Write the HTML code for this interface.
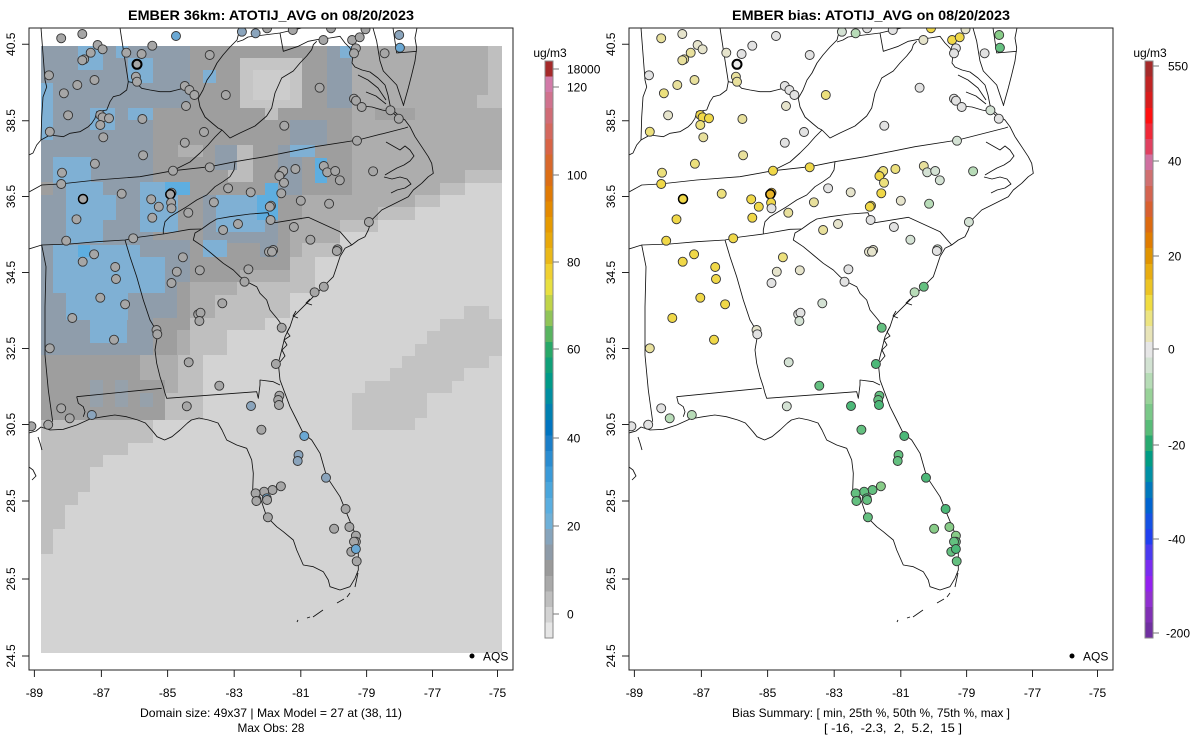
<!DOCTYPE html>
<html><head><meta charset="utf-8"><style>
html,body{margin:0;padding:0;background:#fff}
svg{display:block;font-family:"Liberation Sans",Arial,sans-serif}
.g{fill:#a6a6a6}.b1{fill:#8aa4bc}.b2{fill:#6aa8d4}
.z{fill:#e2e2e2}.w{fill:#e6e4cc}.p{fill:#e8e09c}.y1{fill:#ece07c}.y{fill:#f0d848}.o{fill:#e8b428}
.n0{fill:#d4e2d4}.n1{fill:#b8dcb8}.n2{fill:#88cc88}.n3{fill:#64c080}.n4{fill:#4cb878}
</style></head><body>
<svg width="1200" height="750" viewBox="0 0 1200 750" xmlns="http://www.w3.org/2000/svg">
<rect width="1200" height="750" fill="#fff"/>
<defs>
<clipPath id="cp"><rect x="29" y="28" width="484" height="642"/></clipPath>
<g id="map" fill="none" stroke="#111" stroke-width="0.85" stroke-linejoin="round">
<path d="M41,28 L45,80 L46.7,87 L43,97 L41.7,117 L41,140 L36.7,145 L33,153 L29,155"/>
<path d="M41,140 L50,135 L63.3,136.7 L70,133.3 L80,131.7 L88.3,126.7 L91.7,123.3 L95,118.3 L96.7,111.7 L106.7,110 L110,101.7 L113.3,96.7 L120,95 L126.7,90 L128.3,81.7 L136.7,83.3 L141.7,88.3 L150,90 L160,91.7 L170,91.7 L176.7,90 L183.3,88.3 L193.3,95 L198.3,98.3"/>
<path d="M120,28 L128.3,81.7"/>
<path d="M198.3,98.3 L203,90 L207,80 L212,73 L217,63 L223,55 L230,47 L237,40 L240,28"/>
<path d="M198.3,98.3 L200,107 L205,117 L212,123 L218,128 L222,130"/>
<path d="M222,130 L215,137 L208,145 L200,153 L190,162 L178,168 L173,170.7"/>
<path d="M222,130 L230,138 L240,133 L255,126 L266.7,116 L271.7,108 L275,93 L281.7,78 L293.3,71 L300,63 L306.7,56 L311.7,49.7 L313.3,44.7 L316.7,41.3"/>
<path d="M237,42 L243,40 L248,37 L280,33 L302,28 M280,33 L283.3,51.3 L298.3,46.3 L308.3,41.3 L316.7,39.7 L330,38 L340,36.3 L345,43 L350,48"/>
<path d="M29,192 L41.7,185 L60,184 L96.7,180 L140,176.7 L173.3,170.7 L210,166.7 L235,161.7 L265,156.7 L315,146.7 L358,140 L405,128 L408,127"/>
<path d="M235,161.7 L234,170 L230,176.7 L223,181.7 L215,186.7 L206.7,195 L196.7,200 L186.7,206.7 L178.3,211.7 L170,216.7 L165,221.7 L163.3,230 L163.3,234"/>
<path d="M29,249 L41.7,245 L70,244 L96.7,241.7 L125,240 L140,237 L163.3,234 L190,229.3 L201.7,229"/>
<path d="M201.7,229 L210,223 L216.7,219 L230,216.7 L250,214 L268,212.7 L271.7,221.7 L275,222.7 L308.3,217.3 L340,231.7 L351.7,245"/>
<path d="M201.7,229 L195,233 L193.3,240 L203.3,246.7 L213.3,255 L223.3,263.3 L233.3,270 L240,276.7 L246.7,281.7 L256.7,286.7 L260,293.3 L266.7,300 L270,310 L278.3,320 L283,327"/>
<path d="M125,240 L130,256.7 L136.7,276.7 L143.3,300 L150,320 L155,328.3 L158.3,331.7 L156.7,340 L155,350 L156.7,363.3 L160,376.7 L163.3,386.7 L165,393.3 L166.7,398.3 L256.7,391.7 L258.3,398.3 L260,385 L260,380 L273.3,381.7 L280,385"/>
<path d="M76.7,396.7 L161.7,388.3 M76.7,396.7 L78.3,403.3 L83.3,406.7 L85,411.7 L83.3,416.7"/>
<path d="M41.7,245 L46,266.7 L45,306.7 L45,355 L48.3,390 L52.7,421.7"/>
<path d="M29,433 L36,431 L41,427 L50,430 L63.3,429.3 L76.7,425 L90,419 L103.3,416.7 L114.8,415 L126.3,416.7 L137.8,420 L145.4,423 L153,431.7 L157,436.7 L164.6,440 L172,436.7 L180,430 L187.5,423 L191.4,420 L199,418 L208.6,420 L218,423 L222,430 L226.7,440 L236.7,445 L246.7,448.3 L251.7,460 L253.3,473.3 L252.7,490 L260,496.7 L263.3,506.7 L266.7,516.7 L276.7,526.7 L283.3,531.7 L293.3,540 L296.7,550 L303.3,565 L313.3,566.7 L323.3,571.7 L328.3,580 L330,586.7 L340,590 L350,586.7 L355,578.3 L358.3,570 L358.3,553.3 L355,533.3 L346.7,513.3 L340,496.7 L326.7,476.7 L320,453.3 L311.7,440 L303.3,433.3 L296.7,420 L290,406.7 L285,393.3 L280,380 L278.3,363.3 L281.7,350 L285,336.7 L290,326.7 L293.3,316.7 L303.3,306.7 L316.7,293.3 L325,285 L333.3,276.7 L336.7,266.7 L340,256.7 L345,248.3 L351.7,245 L358.3,240 L365,236.7 L368.3,230 L371.7,220 L376.7,215 L381.7,210 L388.3,206.7 L398.3,201.7 L408.3,196.7 L413.3,190 L421.7,183.3 L428.3,176.7 L433.3,173.3 L431.7,163.3 L428.3,156.7 L421.7,146.7 L415,136.7 L410,126.7 L405,120 L400,116.7"/>
<path d="M290,326.7 L287,332 L290,336 L284,340 L287,345 L282,350 L285,356 L280,362 M310,299 L306,303 L312,305 M296,311 L293,316 L298,318"/>
<path d="M350,48 L353,55 L352,63 L355,67 L362,70 L370,72 L378,78 L385,85 L388,95 L390,105 L395,112 L400,116.7"/>
<path d="M358,75 L368,80 L378,88 L386,100 M362,106 L372,107 L382,110 L392,112 L399,118 M366,92 L376,96 L386,104"/>
<path d="M373,28 L376.7,41.3 L378.3,51 L380,61 L383.3,71 L390,78 L396.7,85 L400,95 L403.3,104.7"/>
<path d="M417,28 L415,38 L416.7,48 L415,61 L411.7,74.7 L408.3,88 L405,99.7 L403.3,106"/>
<path d="M393,28 L396.7,53 L416.7,51.3"/>
<path d="M386,142 L393,146 L400,150 L405,146 L410,150 L414,156 L410,161 L404,165 L397,168 L390,172 L385,175"/>
<path d="M384,177 L392,179 L400,177 L407,179 L411,184 L405,188 L397,190 L391,193"/>
<path d="M38,437 L40,443 L42,450 M29,467 L33,470 L36,476 L32,480"/>
<path d="M358,573 L355,587 M350,593 L347,597 M344,599 L337,603 M323,610 L313,617 M310,617 L307,618 M298,620 L297,622"/>
</g>
</defs>

<!-- ================= LEFT PANEL ================= -->
<g shape-rendering="crispEdges">
<rect x="41" y="46" width="461" height="607" fill="#d3d3d3"/>
<polygon fill="#bfbfbf" points="41,46 502,46 502,183 465,183 465,195 440,195 440,207 415,207 415,220 378,220 378,232 340,232 340,257 315,257 315,293 290,293 290,318 265,318 265,330 227,330 227,355 203,355 203,420 153,420 153,443 128,443 128,455 103,455 103,467 90,467 90,492 78,492 78,505 65,505 65,529 53,529 53,554 41,554"/>
<polygon fill="#c3c3c3" points="464,306 489,306 489,319 502,319 502,356 489,356 489,368 464,368 464,381 452,381 452,393 427,393 427,418 415,418 415,430 352,430 352,393 365,393 365,381 390,381 390,368 402,368 402,356 415,356 415,344 427,344 427,331 440,331 440,319 464,319"/>
<polygon fill="#adadad" points="41,46 488,46 488,95 477,95 477,108 502,108 502,170 465,170 465,183 440,183 440,195 415,195 415,207 378,207 378,220 340,220 340,243 302,243 302,257 290,257 290,282 237,282 237,295 215,295 215,318 190,318 190,355 178,355 178,393 165,393 165,420 41,420"/>
<polygon fill="#9e9e9e" points="41,46 352,46 352,195 302,195 302,220 290,220 290,270 240,270 240,282 190,282 190,330 177,330 177,355 140,355 140,380 165,380 165,420 41,420"/>
<rect x="375" y="108" width="40" height="12" fill="#a2a2a2"/>
<rect x="240" y="58" width="62" height="50" fill="#c5c5c5"/>
<rect x="253" y="70" width="37" height="30" fill="#cccccc"/>
<rect x="265" y="108" width="13" height="12" fill="#c0c0c0"/>
<rect x="228" y="145" width="25" height="37" fill="#bcbcbc"/>
<rect x="178" y="145" width="25" height="12" fill="#b0b0b0"/>
<g fill="#8f9dab">
<rect x="41" y="46" width="149" height="62"/>
<rect x="41" y="108" width="112" height="74"/>
<polygon points="41,195 53,195 53,182 153,182 153,240 190,240 190,282 177,282 177,318 153,318 153,355 41,355"/>
<rect x="327" y="46" width="25" height="62"/>
<rect x="290" y="120" width="37" height="25"/>
<rect x="278" y="145" width="24" height="50"/>
<rect x="203" y="195" width="75" height="48"/>
<rect x="215" y="145" width="22" height="25"/>
<rect x="260" y="230" width="17" height="27"/>
</g>
<g fill="#96a1ab">
<rect x="90" y="380" width="13" height="27"/><rect x="115" y="380" width="13" height="27"/><rect x="140" y="393" width="13" height="14"/>
</g>
<g fill="#7fb0d4">
<rect x="78" y="46" width="25" height="24"/><rect x="116" y="46" width="12" height="12"/><rect x="128" y="58" width="25" height="25"/>
<rect x="90" y="108" width="25" height="22"/><rect x="128" y="108" width="25" height="12"/><rect x="41" y="83" width="12" height="57"/>
<rect x="203" y="70" width="13" height="13"/><rect x="53" y="157" width="38" height="26"/><rect x="66" y="182" width="37" height="61"/>
<rect x="103" y="195" width="13" height="25"/><rect x="140" y="182" width="38" height="50"/><rect x="53" y="245" width="87" height="48"/>
<rect x="140" y="257" width="25" height="36"/><rect x="66" y="293" width="62" height="27"/><rect x="90" y="320" width="37" height="23"/>
<rect x="203" y="240" width="24" height="17"/><rect x="216" y="195" width="49" height="37"/><rect x="340" y="46" width="12" height="12"/>
<rect x="290" y="145" width="25" height="12"/>
</g>
<g fill="#5eaee0">
<rect x="165" y="182" width="25" height="13"/><rect x="257" y="195" width="21" height="25"/><rect x="315" y="158" width="12" height="25"/>
<rect x="78" y="245" width="12" height="12"/><rect x="265" y="183" width="13" height="12"/>
</g>
</g>
<g clip-path="url(#cp)"><use href="#map"/></g>
<g clip-path="url(#cp)" stroke="#333" stroke-width="0.9">
<circle class="g" cx="61.2" cy="38.3" r="4.5"/><circle class="g" cx="82.3" cy="34" r="4.5"/><circle class="g" cx="97.6" cy="45" r="4.5"/><circle class="g" cx="102.6" cy="49.3" r="4.5"/><circle class="g" cx="90.7" cy="52.7" r="4.5"/><circle class="g" cx="84.2" cy="59.3" r="4.5"/><circle class="g" cx="82.3" cy="60.3" r="4.5"/><circle class="g" cx="126.3" cy="52.7" r="4.5"/><circle class="g" cx="141.6" cy="54" r="4.5"/><circle class="g" cx="152.3" cy="45.7" r="4.5"/><circle class="b2" cx="176" cy="36" r="4.5"/>
<circle class="g" cx="137" cy="64.3" r="4.5" stroke="#000" stroke-width="2"/>
<circle class="g" cx="135.9" cy="76.7" r="4.5"/><circle class="g" cx="137" cy="81.7" r="4.5"/><circle class="g" cx="49" cy="75.3" r="4.5"/><circle class="g" cx="77.3" cy="85" r="4.5"/><circle class="g" cx="94.5" cy="80" r="4.5"/><circle class="g" cx="63.9" cy="93.3" r="4.5"/><circle class="g" cx="68.1" cy="115.3" r="4.5"/><circle class="g" cx="100.3" cy="115" r="4.5"/><circle class="g" cx="102.6" cy="117.3" r="4.5"/><circle class="g" cx="109" cy="118.3" r="4.5"/><circle class="g" cx="100.3" cy="125" r="4.5"/><circle class="g" cx="49.8" cy="131.7" r="4.5"/><circle class="g" cx="103.3" cy="137.3" r="4.5"/><circle class="g" cx="142.4" cy="119" r="4.5"/>
<circle class="g" cx="209.7" cy="55" r="4.5"/><circle class="g" cx="184.8" cy="86" r="4.5"/><circle class="g" cx="189.4" cy="90" r="4.5"/><circle class="g" cx="194.4" cy="95" r="4.5"/><circle class="g" cx="225.8" cy="95" r="4.5"/><circle class="g" cx="186" cy="106" r="4.5"/><circle class="g" cx="204" cy="132" r="4.5"/><circle class="g" cx="184.8" cy="142.7" r="4.5"/><circle class="g" cx="143.1" cy="155.3" r="4.5"/><circle class="g" cx="94.9" cy="163.7" r="4.5"/><circle class="g" cx="62" cy="172.7" r="4.5"/><circle class="g" cx="61.2" cy="184" r="4.5"/>
<circle class="g" cx="83" cy="199" r="4.5" stroke="#000" stroke-width="1.5"/>
<circle class="g" cx="76.5" cy="219.3" r="4.5"/><circle class="g" cx="66.2" cy="240.7" r="4.5"/><circle class="g" cx="121.7" cy="193.7" r="4.5"/><circle class="g" cx="133.2" cy="238.3" r="4.5"/><circle class="g" cx="151.2" cy="199.3" r="4.5"/><circle class="g" cx="158.8" cy="206.7" r="4.5"/><circle class="g" cx="152.3" cy="217.7" r="4.5"/>
<circle class="g" cx="171.5" cy="192.7" r="4.5"/><circle class="g" cx="170.3" cy="194.3" r="4.5" stroke="#000" stroke-width="1.5"/>
<circle class="g" cx="171.1" cy="202.7" r="4.5"/><circle class="g" cx="171.5" cy="208.3" r="4.5"/><circle class="g" cx="188.3" cy="212.7" r="4.5"/><circle class="g" cx="173" cy="170.7" r="4.5"/><circle class="g" cx="209.7" cy="167.3" r="4.5"/><circle class="g" cx="228.1" cy="188.3" r="4.5"/><circle class="g" cx="250.7" cy="192.3" r="4.5"/><circle class="g" cx="213.9" cy="202.3" r="4.5"/><circle class="g" cx="223.1" cy="230" r="4.5"/><circle class="g" cx="238" cy="224" r="4.5"/>
<circle class="g" cx="281.3" cy="173.3" r="4.5"/><circle class="g" cx="283.2" cy="171" r="4.5"/><circle class="g" cx="279.4" cy="176" r="4.5"/><circle class="g" cx="284" cy="182.7" r="4.5"/><circle class="g" cx="295.4" cy="169" r="4.5"/><circle class="g" cx="281.3" cy="193.3" r="4.5"/><circle class="g" cx="271" cy="205.7" r="4.5"/><circle class="g" cx="269.8" cy="206.7" r="4.5"/><circle class="g" cx="270.6" cy="220" r="4.5"/><circle class="g" cx="293.9" cy="227" r="4.5"/><circle class="g" cx="300.8" cy="200.7" r="4.5"/>
<circle class="g" cx="323.8" cy="166" r="4.5"/><circle class="g" cx="327.2" cy="172.3" r="4.5"/><circle class="g" cx="335.2" cy="171" r="4.5"/><circle class="g" cx="339.8" cy="180.3" r="4.5"/><circle class="g" cx="329.1" cy="203.7" r="4.5"/><circle class="g" cx="373.1" cy="171.3" r="4.5"/><circle class="g" cx="357" cy="140.7" r="4.5"/><circle class="g" cx="368.9" cy="222" r="4.5"/><circle class="g" cx="310.4" cy="239.7" r="4.5"/><circle class="g" cx="337.5" cy="249.3" r="4.5"/><circle class="g" cx="273.2" cy="250" r="4.5"/>
<circle class="g" cx="284.3" cy="125.7" r="4.5"/><circle class="g" cx="319.6" cy="87.7" r="4.5"/><circle class="g" cx="354" cy="98.7" r="4.5"/><circle class="g" cx="356" cy="100.7" r="4.5"/><circle class="g" cx="361.7" cy="107" r="4.5"/><circle class="g" cx="390.4" cy="110.3" r="4.5"/><circle class="g" cx="398.8" cy="118.7" r="4.5"/>
<circle class="g" cx="352.1" cy="40" r="4.5"/><circle class="g" cx="359.7" cy="37.3" r="4.5"/><circle class="g" cx="355.9" cy="48.3" r="4.5"/><circle class="g" cx="354" cy="53.3" r="4.5"/><circle class="g" cx="384.6" cy="53.3" r="4.5"/><circle class="g" cx="323.4" cy="40" r="4.5"/><circle class="b1" cx="399.2" cy="35" r="4.5"/><circle class="b2" cx="399.9" cy="47.7" r="4.5"/><circle class="b1" cx="241.9" cy="31.7" r="4.5"/><circle class="b1" cx="255.6" cy="33.3" r="4.5"/><circle class="g" cx="292.8" cy="30" r="4.5"/><circle class="g" cx="331" cy="28.3" r="4.5"/><circle class="g" cx="365.5" cy="29.3" r="4.5"/><circle class="g" cx="267.1" cy="28.3" r="4.5"/>
<circle class="g" cx="269" cy="251.7" r="4.5"/><circle class="g" cx="272" cy="251.7" r="4.5"/><circle class="g" cx="336.8" cy="251" r="4.5"/>
<circle class="g" cx="82.7" cy="261.7" r="4.5"/><circle class="g" cx="94.1" cy="254.3" r="4.5"/><circle class="g" cx="115.2" cy="267" r="4.5"/><circle class="g" cx="116" cy="279" r="4.5"/><circle class="g" cx="100.3" cy="297.7" r="4.5"/><circle class="g" cx="125.1" cy="304.3" r="4.5"/><circle class="g" cx="72.3" cy="318" r="4.5"/><circle class="g" cx="114" cy="339.7" r="4.5"/><circle class="g" cx="49.8" cy="348.3" r="4.5"/>
<circle class="g" cx="182.9" cy="257.3" r="4.5"/><circle class="g" cx="176.8" cy="271.7" r="4.5"/><circle class="g" cx="199.8" cy="270.3" r="4.5"/><circle class="g" cx="171.5" cy="283" r="4.5"/><circle class="g" cx="248.4" cy="269.3" r="4.5"/><circle class="g" cx="244.5" cy="281.7" r="4.5"/><circle class="g" cx="222.3" cy="303.3" r="4.5"/><circle class="g" cx="198.2" cy="314.3" r="4.5"/><circle class="g" cx="200.5" cy="312.7" r="4.5"/><circle class="g" cx="199.4" cy="321" r="4.5"/><circle class="g" cx="156.5" cy="330" r="4.5"/><circle class="g" cx="157.3" cy="334.3" r="4.5"/><circle class="g" cx="188.7" cy="362.3" r="4.5"/><circle class="g" cx="219.3" cy="385.7" r="4.5"/>
<circle class="g" cx="281.7" cy="327.7" r="4.5"/><circle class="g" cx="275.9" cy="364" r="4.5"/><circle class="g" cx="323.8" cy="286.7" r="4.5"/><circle class="g" cx="314.6" cy="292.3" r="4.5"/><circle class="g" cx="279.4" cy="395.7" r="4.5"/><circle class="g" cx="278.2" cy="400" r="4.5"/><circle class="g" cx="279" cy="405" r="4.5"/><circle class="b1" cx="251" cy="406" r="4.5"/><circle class="g" cx="186.8" cy="406.3" r="4.5"/><circle class="g" cx="261.4" cy="429.7" r="4.5"/><circle class="b2" cx="304.3" cy="436" r="4.5"/><circle class="b1" cx="298.5" cy="455" r="4.5"/><circle class="b1" cx="297.7" cy="461" r="4.5"/><circle class="b1" cx="326" cy="477.7" r="4.5"/>
<circle class="g" cx="61.2" cy="408.3" r="4.5"/><circle class="g" cx="69.7" cy="418.3" r="4.5"/><circle class="b1" cx="91.8" cy="415" r="4.5"/><circle class="g" cx="48.2" cy="424.7" r="4.5"/><circle class="g" cx="31.4" cy="426.3" r="4.5"/>
<circle class="g" cx="280.9" cy="486.3" r="4.5"/><circle class="g" cx="272.5" cy="490" r="4.5"/><circle class="g" cx="264.1" cy="491.7" r="4.5"/><circle class="g" cx="255.6" cy="493.3" r="4.5"/><circle class="b2" cx="266.7" cy="498.3" r="4.5"/><circle class="g" cx="256.4" cy="501" r="4.5"/><circle class="g" cx="267.1" cy="500" r="4.5"/><circle class="g" cx="267.9" cy="517.3" r="4.5"/>
<circle class="g" cx="345.6" cy="509" r="4.5"/><circle class="g" cx="334.1" cy="528.7" r="4.5"/><circle class="g" cx="349.4" cy="527" r="4.5"/><circle class="g" cx="355.9" cy="535.7" r="4.5"/><circle class="g" cx="355.9" cy="541.7" r="4.5"/><circle class="g" cx="354" cy="541.7" r="4.5"/><circle class="g" cx="351.3" cy="551.7" r="4.5"/><circle class="b2" cx="355.9" cy="549" r="4.5"/><circle class="g" cx="356.7" cy="561.3" r="4.5"/>
</g>
<circle cx="472" cy="656" r="2.5" fill="#000"/>
<text x="483" y="660.3" font-size="12">AQS</text>
<rect x="29" y="28" width="484" height="642" fill="none" stroke="#222" stroke-width="1"/>
<g stroke="#222" stroke-width="1">
<path d="M34.4,670V677M101.4,670V677M167.6,670V677M234.2,670V677M300.8,670V677M366.6,670V677M432.5,670V677M497.5,670V677"/>
<path d="M29,44.3H22M29,120.7H22M29,196.5H22M29,272.5H22M29,348.5H22M29,424.5H22M29,501H22M29,579H22M29,656H22"/>
</g>
<g font-size="12" text-anchor="middle">
<text x="34.4" y="697">-89</text><text x="101.4" y="697">-87</text><text x="167.6" y="697">-85</text><text x="234.2" y="697">-83</text><text x="300.8" y="697">-81</text><text x="366.6" y="697">-79</text><text x="432.5" y="697">-77</text><text x="497.5" y="697">-75</text>
<text transform="translate(15,44.3) rotate(-90)">40.5</text><text transform="translate(15,120.7) rotate(-90)">38.5</text><text transform="translate(15,196.5) rotate(-90)">36.5</text><text transform="translate(15,272.5) rotate(-90)">34.5</text><text transform="translate(15,348.5) rotate(-90)">32.5</text><text transform="translate(15,424.5) rotate(-90)">30.5</text><text transform="translate(15,501) rotate(-90)">28.5</text><text transform="translate(15,579) rotate(-90)">26.5</text><text transform="translate(15,656) rotate(-90)">24.5</text>
<text x="271" y="20" font-size="14" font-weight="bold" textLength="286" lengthAdjust="spacingAndGlyphs">EMBER 36km: ATOTIJ_AVG on 08/20/2023</text>
<text x="271" y="717" textLength="262" lengthAdjust="spacingAndGlyphs">Domain size: 49x37 | Max Model = 27 at (38, 11)</text>
<text x="271" y="732" textLength="67" lengthAdjust="spacingAndGlyphs">Max Obs: 28</text>
<text x="550" y="57">ug/m3</text>
</g>
<g shape-rendering="crispEdges">
<rect x="545" y="61" width="8" height="15.7" fill="#a52a2a"/><rect x="545" y="76.6" width="8" height="15.7" fill="#d27aa8"/><rect x="545" y="92.2" width="8" height="15.7" fill="#d0728e"/><rect x="545" y="107.8" width="8" height="15.7" fill="#d06c76"/><rect x="545" y="123.4" width="8" height="15.7" fill="#d4685e"/><rect x="545" y="139" width="8" height="15.7" fill="#d86446"/><rect x="545" y="154.6" width="8" height="15.7" fill="#d8682c"/><rect x="545" y="170.2" width="8" height="15.7" fill="#dc6e14"/><rect x="545" y="185.8" width="8" height="15.7" fill="#e07a04"/><rect x="545" y="201.4" width="8" height="15.7" fill="#e48a00"/><rect x="545" y="217" width="8" height="15.7" fill="#e69a00"/><rect x="545" y="232.6" width="8" height="15.7" fill="#e8a80a"/><rect x="545" y="248.2" width="8" height="15.7" fill="#eab818"/><rect x="545" y="263.8" width="8" height="15.7" fill="#f0d030"/><rect x="545" y="279.4" width="8" height="15.7" fill="#e8e040"/><rect x="545" y="295" width="8" height="15.7" fill="#c0d448"/><rect x="545" y="310.6" width="8" height="15.7" fill="#90c458"/><rect x="545" y="326.2" width="8" height="15.7" fill="#58b460"/><rect x="545" y="341.8" width="8" height="15.7" fill="#28a868"/><rect x="545" y="357.4" width="8" height="15.7" fill="#10a078"/><rect x="545" y="373" width="8" height="15.7" fill="#009a88"/><rect x="545" y="388.6" width="8" height="15.7" fill="#008ea0"/><rect x="545" y="404.2" width="8" height="15.7" fill="#0080b0"/><rect x="545" y="419.8" width="8" height="15.7" fill="#0074c0"/><rect x="545" y="435.4" width="8" height="15.7" fill="#1a7ec8"/><rect x="545" y="451" width="8" height="15.7" fill="#2a8cd0"/><rect x="545" y="466.6" width="8" height="15.7" fill="#3a9ad8"/><rect x="545" y="482.2" width="8" height="15.7" fill="#4aa6dc"/><rect x="545" y="497.8" width="8" height="15.7" fill="#5aaee0"/><rect x="545" y="513.4" width="8" height="15.7" fill="#6eb0d8"/><rect x="545" y="529" width="8" height="15.7" fill="#86a4bc"/><rect x="545" y="544.6" width="8" height="15.7" fill="#8e9ba8"/><rect x="545" y="560.2" width="8" height="15.7" fill="#9a9a9a"/><rect x="545" y="575.8" width="8" height="15.7" fill="#a9a9a9"/><rect x="545" y="591.4" width="8" height="15.7" fill="#bebebe"/><rect x="545" y="607" width="8" height="15.7" fill="#d3d3d3"/><rect x="545" y="622.6" width="8" height="15.6" fill="#e6e6e6"/>
</g>
<rect x="545" y="61" width="8" height="577" fill="none" stroke="#8a8a8a" stroke-width="1"/>
<path d="M553,69H559M553,87H559M553,175H559M553,262H559M553,349H559M553,438H559M553,526H559M553,614H559" stroke="#777" stroke-width="1"/>
<g font-size="12">
<text x="567" y="73.3">18000</text><text x="567" y="91.3">120</text><text x="567" y="179.3">100</text><text x="567" y="266.3">80</text><text x="567" y="353.3">60</text><text x="567" y="442.3">40</text><text x="567" y="530.3">20</text><text x="567" y="618.3">0</text>
</g>

<!-- ================= RIGHT PANEL ================= -->
<g transform="translate(600,0)">
<g clip-path="url(#cp)"><use href="#map"/></g>
<g clip-path="url(#cp)" stroke="#333" stroke-width="0.9">
<circle class="p" cx="61.2" cy="38.3" r="4.5"/><circle class="w" cx="82.3" cy="34" r="4.5"/><circle class="w" cx="97.6" cy="45" r="4.5"/><circle class="w" cx="102.6" cy="49.3" r="4.5"/><circle class="p" cx="90.7" cy="52.7" r="4.5"/><circle class="p" cx="84.2" cy="59.3" r="4.5"/><circle class="p" cx="82.3" cy="60.3" r="4.5"/><circle class="w" cx="126.3" cy="52.7" r="4.5"/><circle class="z" cx="141.6" cy="54" r="4.5"/><circle class="z" cx="152.3" cy="45.7" r="4.5"/><circle class="z" cx="176" cy="36" r="4.5"/>
<circle cx="137" cy="64.3" r="4.5" fill="#eaeaea" stroke="#000" stroke-width="2"/>
<circle class="p" cx="135.9" cy="76.7" r="4.5"/><circle class="p" cx="137" cy="81.7" r="4.5"/><circle class="z" cx="49" cy="75.3" r="4.5"/><circle class="p" cx="77.3" cy="85" r="4.5"/><circle class="p" cx="94.5" cy="80" r="4.5"/><circle class="y1" cx="63.9" cy="93.3" r="4.5"/><circle class="w" cx="68.1" cy="115.3" r="4.5"/><circle class="y" cx="100.3" cy="115" r="4.5"/><circle class="y" cx="102.6" cy="117.3" r="4.5"/><circle class="y" cx="109" cy="118.3" r="4.5"/><circle class="y1" cx="100.3" cy="125" r="4.5"/><circle class="y1" cx="49.8" cy="131.7" r="4.5"/><circle class="p" cx="103.3" cy="137.3" r="4.5"/><circle class="p" cx="142.4" cy="119" r="4.5"/>
<circle class="z" cx="209.7" cy="55" r="4.5"/><circle class="z" cx="184.8" cy="86" r="4.5"/><circle class="z" cx="189.4" cy="90" r="4.5"/><circle class="z" cx="194.4" cy="95" r="4.5"/><circle class="y1" cx="225.8" cy="95" r="4.5"/><circle class="w" cx="186" cy="106" r="4.5"/><circle class="z" cx="204" cy="132" r="4.5"/><circle class="z" cx="184.8" cy="142.7" r="4.5"/><circle class="p" cx="143.1" cy="155.3" r="4.5"/><circle class="y1" cx="94.9" cy="163.7" r="4.5"/><circle class="y1" cx="62" cy="172.7" r="4.5"/><circle class="y" cx="61.2" cy="184" r="4.5"/>
<circle class="y" cx="83" cy="199" r="4.5" stroke="#000" stroke-width="1.5"/>
<circle class="y" cx="76.5" cy="219.3" r="4.5"/><circle class="y" cx="66.2" cy="240.7" r="4.5"/><circle class="y1" cx="121.7" cy="193.7" r="4.5"/><circle class="y" cx="133.2" cy="238.3" r="4.5"/><circle class="y" cx="151.2" cy="199.3" r="4.5"/><circle class="y" cx="158.8" cy="206.7" r="4.5"/><circle class="y" cx="152.3" cy="217.7" r="4.5"/>
<circle class="o" cx="171.5" cy="192.7" r="4.5"/><circle class="o" cx="170.3" cy="194.3" r="4.5" stroke="#000" stroke-width="1.5"/>
<circle class="y" cx="171.1" cy="202.7" r="4.5"/><circle class="z" cx="171.5" cy="208.3" r="4.5"/><circle class="p" cx="188.3" cy="212.7" r="4.5"/><circle class="y" cx="173" cy="170.7" r="4.5"/><circle class="y" cx="209.7" cy="167.3" r="4.5"/><circle class="z" cx="228.1" cy="188.3" r="4.5"/><circle class="w" cx="250.7" cy="192.3" r="4.5"/><circle class="p" cx="213.9" cy="202.3" r="4.5"/><circle class="p" cx="223.1" cy="230" r="4.5"/><circle class="w" cx="238" cy="224" r="4.5"/>
<circle class="y1" cx="281.3" cy="173.3" r="4.5"/><circle class="y1" cx="283.2" cy="171" r="4.5"/><circle class="y" cx="279.4" cy="176" r="4.5"/><circle class="y1" cx="284" cy="182.7" r="4.5"/><circle class="y1" cx="295.4" cy="169" r="4.5"/><circle class="y" cx="281.3" cy="193.3" r="4.5"/><circle class="y" cx="271" cy="205.7" r="4.5"/><circle class="y" cx="269.8" cy="206.7" r="4.5"/><circle class="z" cx="270.6" cy="220" r="4.5"/><circle class="z" cx="293.9" cy="227" r="4.5"/><circle class="w" cx="300.8" cy="200.7" r="4.5"/>
<circle class="p" cx="323.8" cy="166" r="4.5"/><circle class="n0" cx="327.2" cy="172.3" r="4.5"/><circle class="n0" cx="335.2" cy="171" r="4.5"/><circle class="n0" cx="339.8" cy="180.3" r="4.5"/><circle class="n1" cx="329.1" cy="203.7" r="4.5"/><circle class="n1" cx="373.1" cy="171.3" r="4.5"/><circle class="n0" cx="357" cy="140.7" r="4.5"/><circle class="n0" cx="368.9" cy="222" r="4.5"/><circle class="n0" cx="310.4" cy="239.7" r="4.5"/><circle class="n0" cx="337.5" cy="249.3" r="4.5"/><circle class="w" cx="273.2" cy="250" r="4.5"/>
<circle class="z" cx="284.3" cy="125.7" r="4.5"/><circle class="z" cx="319.6" cy="87.7" r="4.5"/><circle class="z" cx="354" cy="98.7" r="4.5"/><circle class="z" cx="356" cy="100.7" r="4.5"/><circle class="z" cx="361.7" cy="107" r="4.5"/><circle class="n0" cx="390.4" cy="110.3" r="4.5"/><circle class="z" cx="398.8" cy="118.7" r="4.5"/>
<circle class="y" cx="352.1" cy="40" r="4.5"/><circle class="y" cx="359.7" cy="37.3" r="4.5"/><circle class="z" cx="355.9" cy="48.3" r="4.5"/><circle class="z" cx="354" cy="53.3" r="4.5"/><circle class="z" cx="384.6" cy="53.3" r="4.5"/><circle class="w" cx="323.4" cy="40" r="4.5"/><circle class="n2" cx="399.2" cy="35" r="4.5"/><circle class="n3" cx="399.9" cy="47.7" r="4.5"/><circle class="n0" cx="241.9" cy="31.7" r="4.5"/><circle class="n1" cx="255.6" cy="33.3" r="4.5"/><circle class="z" cx="292.8" cy="30" r="4.5"/><circle class="y" cx="331" cy="28.3" r="4.5"/><circle class="w" cx="365.5" cy="29.3" r="4.5"/><circle class="z" cx="267.1" cy="28.3" r="4.5"/>
<circle class="w" cx="269" cy="251.7" r="4.5"/><circle class="w" cx="272" cy="251.7" r="4.5"/><circle class="z" cx="336.8" cy="251" r="4.5"/>
<circle class="y" cx="82.7" cy="261.7" r="4.5"/><circle class="y" cx="94.1" cy="254.3" r="4.5"/><circle class="y" cx="115.2" cy="267" r="4.5"/><circle class="y" cx="116" cy="279" r="4.5"/><circle class="y" cx="100.3" cy="297.7" r="4.5"/><circle class="y" cx="125.1" cy="304.3" r="4.5"/><circle class="y" cx="72.3" cy="318" r="4.5"/><circle class="y" cx="114" cy="339.7" r="4.5"/><circle class="p" cx="49.8" cy="348.3" r="4.5"/>
<circle class="y1" cx="182.9" cy="257.3" r="4.5"/><circle class="w" cx="176.8" cy="271.7" r="4.5"/><circle class="w" cx="199.8" cy="270.3" r="4.5"/><circle class="z" cx="171.5" cy="283" r="4.5"/><circle class="z" cx="248.4" cy="269.3" r="4.5"/><circle class="z" cx="244.5" cy="281.7" r="4.5"/><circle class="n0" cx="222.3" cy="303.3" r="4.5"/><circle class="z" cx="198.2" cy="314.3" r="4.5"/><circle class="z" cx="200.5" cy="312.7" r="4.5"/><circle class="n0" cx="199.4" cy="321" r="4.5"/><circle class="w" cx="156.5" cy="330" r="4.5"/><circle class="z" cx="157.3" cy="334.3" r="4.5"/><circle class="n0" cx="188.7" cy="362.3" r="4.5"/><circle class="n3" cx="219.3" cy="385.7" r="4.5"/>
<circle class="n3" cx="281.7" cy="327.7" r="4.5"/><circle class="n4" cx="275.9" cy="364" r="4.5"/><circle class="n3" cx="323.8" cy="286.7" r="4.5"/><circle class="n1" cx="314.6" cy="292.3" r="4.5"/><circle class="n3" cx="279.4" cy="395.7" r="4.5"/><circle class="n3" cx="278.2" cy="400" r="4.5"/><circle class="n4" cx="279" cy="405" r="4.5"/><circle class="n4" cx="251" cy="406" r="4.5"/><circle class="n0" cx="186.8" cy="406.3" r="4.5"/><circle class="n3" cx="261.4" cy="429.7" r="4.5"/><circle class="n4" cx="304.3" cy="436" r="4.5"/><circle class="n3" cx="298.5" cy="455" r="4.5"/><circle class="n3" cx="297.7" cy="461" r="4.5"/><circle class="n4" cx="326" cy="477.7" r="4.5"/>
<circle class="z" cx="61.2" cy="408.3" r="4.5"/><circle class="n1" cx="69.7" cy="418.3" r="4.5"/><circle class="n1" cx="91.8" cy="415" r="4.5"/><circle class="z" cx="48.2" cy="424.7" r="4.5"/><circle class="z" cx="31.4" cy="426.3" r="4.5"/>
<circle class="n2" cx="280.9" cy="486.3" r="4.5"/><circle class="n3" cx="272.5" cy="490" r="4.5"/><circle class="n3" cx="264.1" cy="491.7" r="4.5"/><circle class="n3" cx="255.6" cy="493.3" r="4.5"/><circle class="n4" cx="266.7" cy="498.3" r="4.5"/><circle class="n3" cx="256.4" cy="501" r="4.5"/><circle class="n3" cx="267.1" cy="500" r="4.5"/><circle class="n3" cx="267.9" cy="517.3" r="4.5"/>
<circle class="n4" cx="345.6" cy="509" r="4.5"/><circle class="n2" cx="334.1" cy="528.7" r="4.5"/><circle class="n2" cx="349.4" cy="527" r="4.5"/><circle class="n2" cx="355.9" cy="535.7" r="4.5"/><circle class="n3" cx="355.9" cy="541.7" r="4.5"/><circle class="n3" cx="354" cy="541.7" r="4.5"/><circle class="n3" cx="351.3" cy="551.7" r="4.5"/><circle class="n4" cx="355.9" cy="549" r="4.5"/><circle class="n3" cx="356.7" cy="561.3" r="4.5"/>
</g>
<circle cx="472" cy="656" r="2.5" fill="#000"/>
<text x="483" y="660.3" font-size="12">AQS</text>
<rect x="29" y="28" width="484" height="642" fill="none" stroke="#222" stroke-width="1"/>
<g stroke="#222" stroke-width="1">
<path d="M34.4,670V677M101.4,670V677M167.6,670V677M234.2,670V677M300.8,670V677M366.6,670V677M432.5,670V677M497.5,670V677"/>
<path d="M29,44.3H22M29,120.7H22M29,196.5H22M29,272.5H22M29,348.5H22M29,424.5H22M29,501H22M29,579H22M29,656H22"/>
</g>
<g font-size="12" text-anchor="middle">
<text x="34.4" y="697">-89</text><text x="101.4" y="697">-87</text><text x="167.6" y="697">-85</text><text x="234.2" y="697">-83</text><text x="300.8" y="697">-81</text><text x="366.6" y="697">-79</text><text x="432.5" y="697">-77</text><text x="497.5" y="697">-75</text>
<text transform="translate(15,44.3) rotate(-90)">40.5</text><text transform="translate(15,120.7) rotate(-90)">38.5</text><text transform="translate(15,196.5) rotate(-90)">36.5</text><text transform="translate(15,272.5) rotate(-90)">34.5</text><text transform="translate(15,348.5) rotate(-90)">32.5</text><text transform="translate(15,424.5) rotate(-90)">30.5</text><text transform="translate(15,501) rotate(-90)">28.5</text><text transform="translate(15,579) rotate(-90)">26.5</text><text transform="translate(15,656) rotate(-90)">24.5</text>
<text x="271" y="20" font-size="14" font-weight="bold" textLength="278" lengthAdjust="spacingAndGlyphs">EMBER bias: ATOTIJ_AVG on 08/20/2023</text>
<text x="271" y="717" textLength="278" lengthAdjust="spacingAndGlyphs">Bias Summary: [ min, 25th %, 50th %, 75th %, max ]</text>
<text x="293" y="732" style="white-space:pre" textLength="138" lengthAdjust="spacingAndGlyphs">[ -16,  -2.3,  2,  5.2,  15 ]</text>
<text x="550" y="57">ug/m3</text>
</g>
<g shape-rendering="crispEdges">
<rect x="545" y="61" width="8" height="15.7" fill="#a52a2a"/><rect x="545" y="76.6" width="8" height="15.7" fill="#c02424"/><rect x="545" y="92.2" width="8" height="15.7" fill="#d81c1c"/><rect x="545" y="107.8" width="8" height="15.7" fill="#ff1010"/><rect x="545" y="123.4" width="8" height="15.7" fill="#f02838"/><rect x="545" y="139" width="8" height="15.7" fill="#e04060"/><rect x="545" y="154.6" width="8" height="15.7" fill="#d070a0"/><rect x="545" y="170.2" width="8" height="15.7" fill="#d07070"/><rect x="545" y="185.8" width="8" height="15.7" fill="#d46450"/><rect x="545" y="201.4" width="8" height="15.7" fill="#d86030"/><rect x="545" y="217" width="8" height="15.7" fill="#dc6a10"/><rect x="545" y="232.6" width="8" height="15.7" fill="#e07c00"/><rect x="545" y="248.2" width="8" height="15.7" fill="#e09400"/><rect x="545" y="263.8" width="8" height="15.7" fill="#e8ac10"/><rect x="545" y="279.4" width="8" height="15.7" fill="#ecc424"/><rect x="545" y="295" width="8" height="15.7" fill="#f0dc40"/><rect x="545" y="310.6" width="8" height="15.7" fill="#ece480"/><rect x="545" y="326.2" width="8" height="15.7" fill="#e8e4b8"/><rect x="545" y="341.8" width="8" height="15.7" fill="#e6e6e6"/><rect x="545" y="357.4" width="8" height="15.7" fill="#d2e2d2"/><rect x="545" y="373" width="8" height="15.7" fill="#b6dcb6"/><rect x="545" y="388.6" width="8" height="15.7" fill="#98d298"/><rect x="545" y="404.2" width="8" height="15.7" fill="#7ac888"/><rect x="545" y="419.8" width="8" height="15.7" fill="#58bc78"/><rect x="545" y="435.4" width="8" height="15.7" fill="#28aa70"/><rect x="545" y="451" width="8" height="15.7" fill="#009c84"/><rect x="545" y="466.6" width="8" height="15.7" fill="#0090a4"/><rect x="545" y="482.2" width="8" height="15.7" fill="#0078bc"/><rect x="545" y="497.8" width="8" height="15.7" fill="#0064d0"/><rect x="545" y="513.4" width="8" height="15.7" fill="#1452e4"/><rect x="545" y="529" width="8" height="15.7" fill="#2040f0"/><rect x="545" y="544.6" width="8" height="15.7" fill="#4a3af0"/><rect x="545" y="560.2" width="8" height="15.7" fill="#7a2cf0"/><rect x="545" y="575.8" width="8" height="15.7" fill="#9420f0"/><rect x="545" y="591.4" width="8" height="15.7" fill="#9030d0"/><rect x="545" y="607" width="8" height="15.7" fill="#8030b4"/><rect x="545" y="622.6" width="8" height="15.6" fill="#7030a0"/>
</g>
<rect x="545" y="61" width="8" height="577" fill="none" stroke="#8a8a8a" stroke-width="1"/>
<path d="M553,66H559M553,161H559M553,256H559M553,349H559M553,445H559M553,539H559M553,633H559" stroke="#777" stroke-width="1"/>
<g font-size="12">
<text x="568" y="70.3">550</text><text x="568" y="165.3">40</text><text x="568" y="260.3">20</text><text x="568" y="353.3">0</text><text x="568" y="449.3">-20</text><text x="568" y="543.3">-40</text><text x="566" y="637.3">-200</text>
</g>
</g>
</svg>
</body></html>
